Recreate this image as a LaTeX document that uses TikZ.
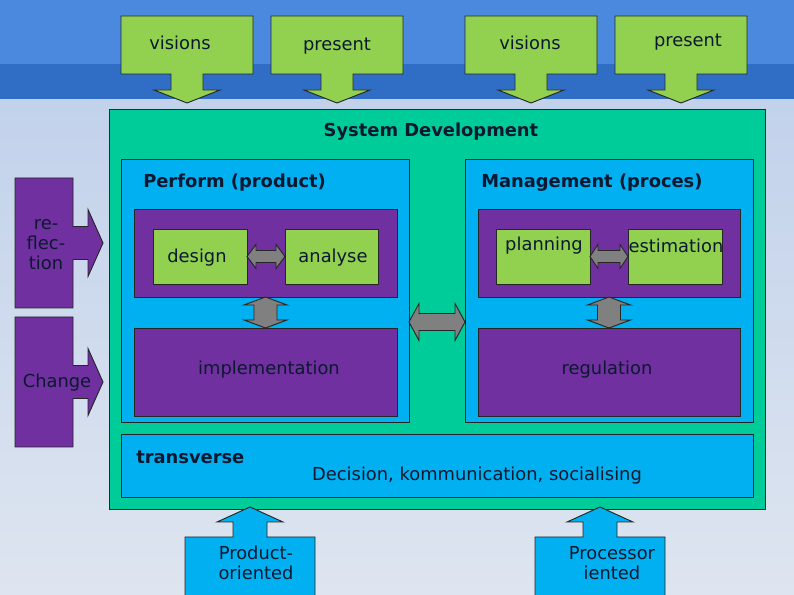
\documentclass[tikz,border=0pt]{standalone}
\usepackage{fontspec}
\setmainfont{DejaVu Sans}
\usetikzlibrary{calc,fit}

\definecolor{leafgreen}{HTML}{92D050}
\definecolor{sysgreen}{HTML}{00CC99}
\definecolor{skyblue}{HTML}{00B0F0}
\definecolor{plum}{HTML}{7030A0}
\definecolor{arrowgray}{HTML}{808080}
\definecolor{inkblue}{HTML}{0C1830}
\definecolor{bandlight}{RGB}{74,137,222}
\definecolor{banddark}{RGB}{48,110,198}
\definecolor{paletop}{RGB}{194,210,235}
\definecolor{palebottom}{RGB}{222,229,240}

\tikzset{
  outline/.style={draw=black!85, line width=0.7pt},
  panel/.style={outline, inner sep=0pt, outer sep=0pt},
  title/.style={font=\fontsize{13.4}{15}\selectfont\bfseries, inner sep=0pt},
  label/.style={align=center},
  % block arrow pointing down, box on top
  pics/downcallout/.style={code={
    \draw[outline, fill=leafgreen] (-66,0) -- (66,0) -- (66,58) -- (16,58) -- (16,74) -- (33,74)
      -- (0,87) -- (-33,74) -- (-16,74) -- (-16,58) -- (-66,58) -- cycle;
  }},
  % block arrow pointing right, box on the left
  pics/rightcallout/.style={code={
    \draw[outline, fill=plum] (0,0) -- (58,0) -- (58,48.5) -- (73,48.5) -- (73,31.5) -- (88,65)
      -- (73,98.5) -- (73,81.5) -- (58,81.5) -- (58,130) -- (0,130) -- cycle;
  }},
  % block arrow pointing up, box below
  pics/upcallout/.style={code={
    \draw[outline, fill=skyblue] (0,0) -- (48,0) -- (48,-15) -- (32,-15) -- (65,-30) -- (98,-15)
      -- (82,-15) -- (82,0) -- (130,0) -- (130,70) -- (0,70) -- cycle;
  }},
  % two-headed block arrow: half length, head length, half head width, half shaft width
  pics/twoway/.style n args={4}{code={
    \draw[outline, fill=arrowgray] (-#1,0) -- (-#1+#2,#3) -- (-#1+#2,#4) -- (#1-#2,#4) -- (#1-#2,#3)
      -- (#1,0) -- (#1-#2,-#3) -- (#1-#2,-#4) -- (-#1+#2,-#4) -- (-#1+#2,-#3) -- cycle;
  }}
}

\begin{document}
\begin{tikzpicture}[x=0.75pt, y=-0.75pt, font=\fontsize{13.4}{15}\selectfont, text=inkblue]
    \useasboundingbox (0,0) rectangle (794,595);

    % Background bands
    \fill[bandlight] (0,0) rectangle (794,64);
    \fill[banddark] (0,64) rectangle (794,100);
    \shade[top color=paletop, bottom color=palebottom] (0,100) rectangle (794,595);

    % Inputs from above
    \pic at (187,16) {downcallout};
    \pic at (337,16) {downcallout};
    \pic at (531,16) {downcallout};
    \pic at (681,16) {downcallout};
    \node (visionsA) at (180,43) {visions};
    \node (presentA) at (337,46) {present};
    \node (visionsB) at (530,43) {visions};
    \node (presentB) at (688,42) {present};

    % Inputs from the left
    \pic at (15,178) {rightcallout};
    \pic at (15,317) {rightcallout};
    \node[label] (reflection) at (46,245) {re-\\flec-\\tion};
    \node (change) at (57,383) {Change};

    % System development frame
    \node[panel, fill=sysgreen, fit={(109,109) (765,509)}] (sysdev) {};
    \node[title] (sysdevTitle) at (431,132) {System Development};

    % Perform side
    \node[panel, fill=skyblue, fit={(121,159) (409,422)}] (perform) {};
    \node[title, anchor=west] (performTitle) at (143,183) {Perform (product)};
    \node[panel, fill=plum, fit={(134,209) (397,297)}] (performTop) {};
    \node[panel, fill=leafgreen, fit={(153,229) (247,284)}] (design) {};
    \node[panel, fill=leafgreen, fit={(285,229) (378,284)}] (analyse) {};
    \node (designText) at (197,258) {design};
    \node (analyseText) at (333,258) {analyse};
    \node[panel, fill=plum, fit={(134,328) (397,416)}] (performBottom) {};
    \node (implementation) at (269,370) {implementation};

    % Management side
    \node[panel, fill=skyblue, fit={(465,159) (753,422)}] (manage) {};
    \node[title, anchor=west] (manageTitle) at (481,183) {Management (proces)};
    \node[panel, fill=plum, fit={(478,209) (740,297)}] (manageTop) {};
    \node[panel, fill=leafgreen, fit={(496,229) (590,284)}] (planning) {};
    \node[panel, fill=leafgreen, fit={(628,229) (722,284)}] (estimation) {};
    \node (planningText) at (544,246) {planning};
    \node (estimationText) at (676,246) {estimation};
    \node[panel, fill=plum, fit={(478,328) (740,416)}] (manageBottom) {};
    \node (regulation) at (607,370) {regulation};

    % Two-way links
    \pic at ($(design.east)!0.5!(analyse.west)$) {twoway={19}{9}{12}{6}};
    \pic at ($(planning.east)!0.5!(estimation.west)$) {twoway={19}{8}{12}{6}};
    \pic[rotate=90] at ($(performTop.south)!0.5!(performBottom.north)$) {twoway={15.5}{8}{21.5}{11.5}};
    \pic[rotate=90] at ($(manageTop.south)!0.5!(manageBottom.north)$) {twoway={15.5}{8}{21.5}{11.5}};
    \pic at ($($(perform.east)!0.5!(manage.west)$)+(0,31.5)$) {twoway={28}{10}{18.5}{8.5}};

    % Transverse strip
    \node[panel, fill=skyblue, fit={(121,434) (753,497)}] (transverse) {};
    \node[title, anchor=west] (transverseTitle) at (136,457) {transverse};
    \node (transverseText) at (477,476) {Decision, kommunication, socialising};

    % Inputs from below
    \pic at (185,537) {upcallout};
    \pic at (535,537) {upcallout};
    \node[label] (productOr) at (256,563) {Product-\\oriented};
    \node[label] (processOr) at (612,563) {Processor\\iented};

\end{tikzpicture}
\end{document}
